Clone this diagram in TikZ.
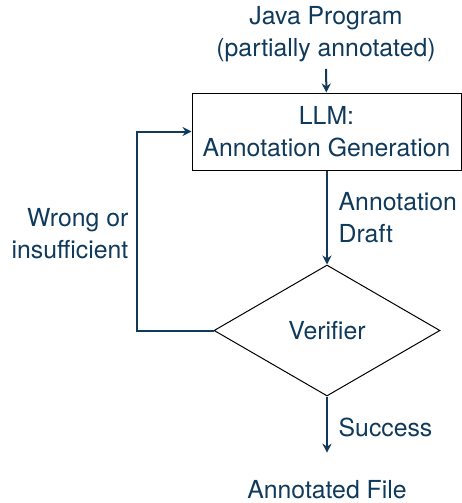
\documentclass[tikz,border=0pt]{standalone}
\usepackage{fontspec}
\setmainfont{TeX Gyre Heros}
\usepackage{tikz}
\usetikzlibrary{shapes.geometric,arrows.meta}
\definecolor{flowblue}{HTML}{0F3A5C}

\begin{document}
\begin{tikzpicture}[x=0.5pt,y=-0.5pt,>={Stealth[length=4.5pt,width=4.5pt]},
		font=\fontsize{12.4}{16}\selectfont]
			\tikzstyle{label}=[text=flowblue,align=center]
			\tikzstyle{process}=[draw=black,line width=0.5pt,rectangle,minimum width=134.5pt,minimum height=38.5pt,align=center,text=flowblue]
			\tikzstyle{decision}=[draw=black,line width=0.5pt,diamond,minimum width=113pt,minimum height=65.5pt,inner sep=0pt,text=flowblue]
			\tikzstyle{flow}=[flowblue,line width=1pt,->]
			\useasboundingbox (0,0) rectangle (461,503);
			\node[label] (src) at (326,34) {Java Program\\(partially annotated)};
			\node[process] (gen) at (326.5,131.5) {LLM:\\Annotation Generation};
			\node[decision] (ver) at (327,330.5) {Verifier};
			\node[label] (out) at (327,490) {Annotated File};
			\draw[flow] (src) -- (gen);
			\draw[flow] (gen.south -| ver.north) -- node[label,anchor=west,align=left,xshift=2pt]{Annotation\\Draft} (ver.north);
			\draw[flow] (ver.west) -- (137,330.5) |- node[label,pos=0.25,anchor=east,align=right,xshift=-0.5pt,yshift=-1.5pt]{Wrong or\\insufficient} (gen.west);
			\draw[flow,shorten >=10.5pt] (ver.south) -- node[label,anchor=west,xshift=2pt,yshift=4pt]{Success} (out.north);
			\end{tikzpicture}
\end{document}
